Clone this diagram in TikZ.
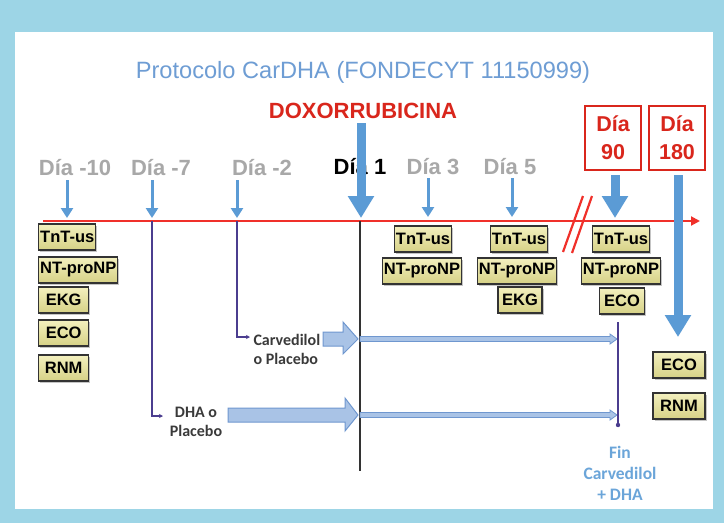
\documentclass[tikz,border=0pt]{standalone}
\usepackage{fontspec}
\setmainfont{Liberation Sans}
\newfontfamily\carl{Carlito}
\usetikzlibrary{arrows.meta,shadows}
\definecolor{bgblue}{HTML}{9DD5E6}
\definecolor{titleblue}{HTML}{6E9DD4}
\definecolor{arrblue}{HTML}{5B9BD5}
\definecolor{dayred}{HTML}{D9261C}
\definecolor{linered}{HTML}{F0302A}
\definecolor{daygray}{HTML}{A8A8A8}
\definecolor{boxtop}{HTML}{F3F0BE}
\definecolor{boxbot}{HTML}{D6D186}
\definecolor{purp}{HTML}{4B3D8F}
\definecolor{blkfill}{HTML}{A9C3E6}
\definecolor{blkdraw}{HTML}{6F97CF}
\definecolor{labgray}{HTML}{3A3A3A}
\begin{document}
\begin{tikzpicture}[x=1pt,y=-1pt,
  lab/.style={draw=black!80, line width=1.4pt, top color=boxtop, bottom color=boxbot,
    font=\bfseries\fontsize{16.5}{16.5}\selectfont, inner xsep=1.5pt, inner ysep=2pt,
    minimum height=26pt, text=black,
    drop shadow={shadow xshift=1.5pt, shadow yshift=-1.5pt, opacity=0.45}},
  wide/.style={minimum width=50pt},
  daylab/.style={font=\bfseries\fontsize{22}{22}\selectfont, text=daygray},
  daybox/.style={draw=dayred, line width=2pt, minimum width=56pt, minimum height=64pt,
    align=center, text=dayred, font=\bfseries\fontsize{21.5}{28}\selectfont, fill=white},
  smallarr/.style={draw=arrblue, line width=3pt, -{Triangle[width=12pt,length=10pt]}},
  bigarr/.style={draw=arrblue, line width=9pt, -{Triangle[width=25pt,length=22pt]}},
  purpline/.style={draw=purp, line width=1.2pt},
  sidelab/.style={font=\carl\bfseries\fontsize{16}{19}\selectfont, text=labgray, align=left},
  blk/.style={fill=blkfill, draw=blkdraw, line width=1pt},
  thin/.style={fill=blkfill, draw=blkdraw, line width=0.8pt}
]
\useasboundingbox (0,0) rectangle (724,523);
\fill[bgblue] (0,0) rectangle (724,523);
\fill[white] (15,32) rectangle (713,509);

% titles
\node[font=\fontsize{23.6}{23.6}\selectfont, text=titleblue] (title) at (363,72) {Protocolo CarDHA (FONDECYT 11150999)};
\node[font=\bfseries\fontsize{22}{22}\selectfont, text=dayred] (doxo) at (363,111) {DOXORRUBICINA};

% day labels
\node[daylab] (dm10) at (75,168) {Día -10};
\node[daylab] (dm7) at (161,168) {Día -7};
\node[daylab] (dm2) at (262,168) {Día -2};
\node[daylab, text=black] (d1) at (360,167) {Día 1};
\node[daylab] (d3) at (433,167) {Día 3};
\node[daylab] (d5) at (510,167) {Día 5};
\node[daybox] (d90) at (613,138) {Día\\90};
\node[daybox] (d180) at (677,138) {Día\\180};

% timeline
\coordinate (tl0) at (43,221);
\coordinate (tl1) at (700,221);
\draw[linered, line width=2pt, -{Triangle[width=9pt,length=9pt]}] (tl0) -- (tl1);

% slash
\draw[linered, line width=2.2pt] (563,252) -- (583,196);
\draw[linered, line width=2.2pt] (572,253) -- (592,196);

% black Día 1 line
\coordinate (b1) at (360,221);
\coordinate (b2) at (360,471);
\draw[black!80, line width=2pt] (b1) -- (b2);

% small arrows
\draw[smallarr] (67,180) -- (67,218);
\draw[smallarr] (152,180) -- (152,218);
\draw[smallarr] (237,180) -- (237,218);
\draw[smallarr] (428,178) -- (428,217);
\draw[smallarr] (512,178) -- (512,217);

% big arrows
\draw[bigarr] (361,123) -- (361,218);
\draw[bigarr] (615,175) -- (615,218);
\draw[bigarr] (678,175) -- (678,337);

% boxes Día -10
\node[lab, anchor=west] (a1) at (38,237) {TnT-us};
\node[lab, anchor=west] (a2) at (38,270) {NT-proNP};
\node[lab, wide, anchor=west] (a3) at (38,300) {EKG};
\node[lab, wide, anchor=west] (a4) at (38,333) {ECO};
\node[lab, wide, anchor=west] (a5) at (38,368) {RNM};
% Día 3
\node[lab] (c1) at (423,239) {TnT-us};
\node[lab] (c2) at (422,271) {NT-proNP};
% Día 5
\node[lab] (e1) at (519,239) {TnT-us};
\node[lab] (e2) at (517,271) {NT-proNP};
\node[lab, minimum width=44pt] (e3) at (520,300) {EKG};
% Día 90
\node[lab] (n1) at (621,239) {TnT-us};
\node[lab] (n2) at (621,271) {NT-proNP};
\node[lab, minimum width=45pt] (n3) at (622,301) {ECO};
% Día 180
\node[lab, minimum width=52pt] (h1) at (679,365) {ECO};
\node[lab, minimum width=52pt] (h2) at (679,406) {RNM};

% treatment labels
\node[sidelab, anchor=west] (carv) at (250,349) {Carvedilol\\o Placebo};
\node[sidelab, align=center] (dha) at (196,422) {DHA o\\Placebo};

% purple branch lines
\coordinate (p2a) at (237,221);
\coordinate (p2b) at (237,337);
\coordinate (p7a) at (152,221);
\coordinate (p7b) at (152,416);
\draw[purpline, -{Stealth[length=4pt,width=4pt]}] (p2a) -- (p2b) -- (carv.west |- p2b);
\draw[purpline, -{Stealth[length=4pt,width=4pt]}] (p7a) -- (p7b) -- (163,416);

% block arrows
\draw[blk] (323,332) -- (343,332) -- (343,322) -- (358,339) -- (343,354) -- (343,346) -- (323,346) -- cycle;
\draw[blk] (228,408) -- (345,408) -- (345,398) -- (358,415) -- (345,431) -- (345,422) -- (228,422) -- cycle;

% thin arrows
\draw[thin] (360,336.5) -- (610,336.5) -- (610,334) -- (617,339) -- (610,344) -- (610,341.5) -- (360,341.5) -- cycle;
\draw[thin] (360,412.5) -- (610,412.5) -- (610,410) -- (617,415) -- (610,420) -- (610,417.5) -- (360,417.5) -- cycle;

% end line
\coordinate (f1) at (618,322);
\coordinate (f2) at (618,425);
\draw[purpline] (f1) -- (f2);
\fill[purp] (f2) circle (2.2pt);

\node[font=\carl\bfseries\fontsize{17.5}{21}\selectfont, text=arrblue!90, align=center] (fin) at (620,473) {Fin\\Carvedilol\\+ DHA};
\end{tikzpicture}
\end{document}
